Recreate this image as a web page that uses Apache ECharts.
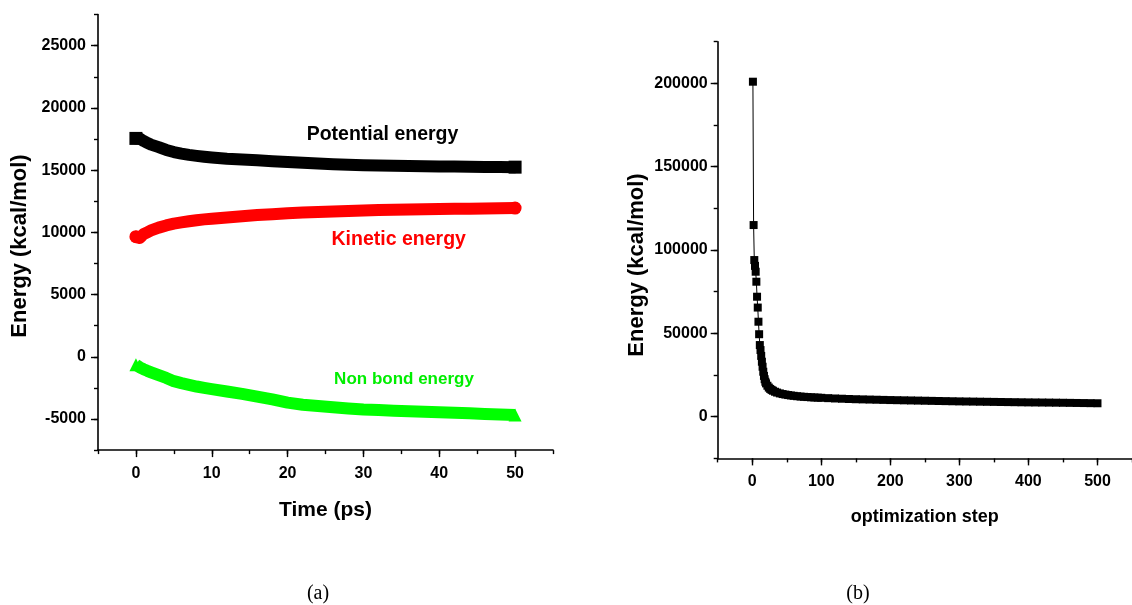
<!DOCTYPE html>
<html>
<head>
<meta charset="utf-8">
<script src="https://cdn.jsdelivr.net/npm/echarts@6/dist/echarts.min.js"></script>
<style>
html,body{margin:0;padding:0;background:#fff;}
#chart{width:1132px;height:605px;}
</style>
</head>
<body>
<div id="chart"></div>
<script>
// ---------- Data ----------
const leftTime = [0, 0.5, 1, 1.5, 2, 3, 4, 5, 6, 7, 8, 9, 10, 12, 14, 16, 18, 20, 22, 24, 26, 28, 30, 32, 34, 36, 38, 40, 42, 44, 46, 48, 50];
const potentialEnergy = [17550, 17550, 17350, 17200, 17050, 16850, 16620, 16450, 16330, 16230, 16150, 16080, 16020, 15920, 15850, 15790, 15720, 15650, 15590, 15530, 15480, 15440, 15400, 15380, 15360, 15340, 15320, 15300, 15290, 15270, 15260, 15250, 15240];
const kineticEnergy = [9650, 9550, 9850, 10000, 10150, 10380, 10560, 10700, 10800, 10890, 10970, 11040, 11100, 11200, 11300, 11390, 11460, 11540, 11590, 11630, 11670, 11720, 11760, 11790, 11810, 11830, 11850, 11870, 11890, 11900, 11920, 11940, 11950];
const nonBondEnergy = [-650, -850, -1000, -1130, -1250, -1480, -1700, -1960, -2120, -2260, -2390, -2500, -2600, -2790, -2980, -3200, -3420, -3680, -3850, -3960, -4060, -4150, -4230, -4280, -4330, -4370, -4410, -4450, -4490, -4540, -4590, -4630, -4680];

const optSteps = [1, 2, 3, 4, 5, 6, 7, 8, 9, 10, 11, 12, 13, 14, 15, 16, 17, 18, 19, 20, 22, 24, 26, 28, 30, 33, 36, 40, 44, 48, 52, 56, 60, 65, 70, 75, 80, 85, 90, 95,
  100, 110, 120, 130, 140, 150, 160, 170, 180, 190, 200, 210, 220, 230, 240, 250, 260, 270, 280, 290, 300,
  310, 320, 330, 340, 350, 360, 370, 380, 390, 400, 410, 420, 430, 440, 450, 460, 470, 480, 490, 500];
const optEnergy = [201000, 115000, 94000, 90500, 87000, 81000, 72000, 65500, 57000, 49500, 43000, 40000, 36500, 33000, 30000, 27000, 24500, 22500, 21000, 20000, 18600, 17500, 16700, 16100, 15600, 15000, 14500, 14000, 13600, 13300, 13000, 12750, 12550, 12300, 12100, 11950, 11800, 11650, 11550, 11450,
  11350, 11150, 10950, 10800, 10650, 10500, 10400, 10300, 10200, 10100, 10000, 9920, 9840, 9760, 9680, 9600, 9520, 9440, 9360, 9280, 9200,
  9140, 9080, 9020, 8960, 8900, 8840, 8780, 8720, 8660, 8600, 8560, 8520, 8480, 8430, 8380, 8320, 8260, 8200, 8140, 8080];

const leftXTicks = [0, 10, 20, 30, 40, 50];
const leftYTicks = [-5000, 0, 5000, 10000, 15000, 20000, 25000];
const rightXTicks = [0, 100, 200, 300, 400, 500];
const rightYTicks = [0, 50000, 100000, 150000, 200000];

// ---------- Chart ----------
const FONT = 'Liberation Sans';
const chart = echarts.init(document.getElementById('chart'), null, {renderer: 'canvas'});

function mainAxis(gridIndex, position, min, max, interval, labels, margin) {
  return {
    type: 'value', gridIndex, position, offset: 0, min, max, interval,
    axisLine: {show: true, onZero: false, lineStyle: {color: '#000', width: 1.6}},
    axisTick: {show: true, inside: false, length: 4, lineStyle: {color: '#000', width: 1.4}},
    axisLabel: {
      show: true, customValues: labels, margin,
      formatter: v => String(v),
      color: '#000', fontFamily: FONT, fontWeight: 'bold', fontSize: 16
    },
    splitLine: {show: false}
  };
}
function overlayAxis(gridIndex, position, min, max, interval, labels) {
  return {
    type: 'value', gridIndex, position, offset: 0, min, max, interval,
    axisLine: {show: false, onZero: false},
    axisTick: {show: true, inside: false, customValues: labels, length: 7, lineStyle: {color: '#000', width: 1.4}},
    axisLabel: {show: false},
    splitLine: {show: false}
  };
}

const xAxes = [
  Object.assign(mainAxis(0, 'bottom', -5, 55, 5, leftXTicks, 15), {
    name: 'Time (ps)', nameLocation: 'middle', nameGap: 50,
    nameTextStyle: {color: '#000', fontFamily: FONT, fontWeight: 'bold', fontSize: 21}
  }),
  overlayAxis(0, 'bottom', -5, 55, 5, leftXTicks),
  Object.assign(mainAxis(1, 'bottom', -50, 550, 50, rightXTicks, 15), {
    name: 'optimization step', nameLocation: 'middle', nameGap: 50,
    nameTextStyle: {color: '#000', fontFamily: FONT, fontWeight: 'bold', fontSize: 18}
  }),
  overlayAxis(1, 'bottom', -50, 550, 50, rightXTicks)
];
const yAxes = [
  mainAxis(0, 'left', -7500, 27500, 2500, leftYTicks, 12),
  overlayAxis(0, 'left', -7500, 27500, 2500, leftYTicks),
  mainAxis(1, 'left', -25000, 225000, 25000, rightYTicks, 10),
  overlayAxis(1, 'left', -25000, 225000, 25000, rightYTicks)
];

function bandSeries(values, color, symbol, cap) {
  const last = values.length - 1;
  return {
    type: 'line', xAxisIndex: 0, yAxisIndex: 0,
    data: leftTime.map((t, i) => [t, values[i]]),
    symbol,
    symbolSize: (v, p) => (p.dataIndex === 0 || p.dataIndex === last) ? 13 : 0,
    showSymbol: true,
    itemStyle: {color},
    lineStyle: {color, width: 12, cap, join: 'round'},
    silent: true, z: 3
  };
}

const textStyle = (txt, x, y, size, color) => ({
  type: 'text', x, y, silent: true,
  style: {text: txt, fill: color, font: 'bold ' + size + 'px "' + FONT + '"', textAlign: 'center', textVerticalAlign: 'middle'}
});

chart.setOption({
  animation: false,
  backgroundColor: '#fff',
  grid: [
    {left: 98, top: 14.6, width: 455, height: 435.5, containLabel: false},
    {left: 717.7, top: 41.7, width: 422.8, height: 416.7, containLabel: false}
  ],
  xAxis: xAxes,
  yAxis: yAxes,
  series: [
    bandSeries(potentialEnergy, '#000000', 'rect', 'round'),
    bandSeries(kineticEnergy, '#ff0000', 'circle', 'round'),
    bandSeries(nonBondEnergy, '#00ff00', 'triangle', 'butt'),
    {
      type: 'line', xAxisIndex: 2, yAxisIndex: 2,
      data: optSteps.map((s, i) => [s, optEnergy[i]]),
      symbol: 'rect', symbolSize: 8, showSymbol: true,
      itemStyle: {color: '#000'},
      lineStyle: {color: '#000', width: 1},
      silent: true
    }
  ],
  graphic: [
    textStyle('Potential energy', 382.5, 135, 19.5, '#000000'),
    textStyle('Kinetic energy', 398.7, 240, 19.5, '#ff0000'),
    textStyle('Non bond energy', 404, 379, 17, '#00ee00'),
    Object.assign(textStyle('Energy (kcal/mol)', 20, 246, 22, '#000'), {rotation: Math.PI / 2}),
    Object.assign(textStyle('Energy (kcal/mol)', 636.5, 265, 22, '#000'), {rotation: Math.PI / 2}),
    {type: 'text', x: 318, y: 594, silent: true,
     style: {text: '(a)', fill: '#000', font: '20px "Liberation Serif"', textAlign: 'center', textVerticalAlign: 'middle'}},
    {type: 'text', x: 858, y: 594, silent: true,
     style: {text: '(b)', fill: '#000', font: '20px "Liberation Serif"', textAlign: 'center', textVerticalAlign: 'middle'}}
  ]
});
</script>
</body>
</html>
